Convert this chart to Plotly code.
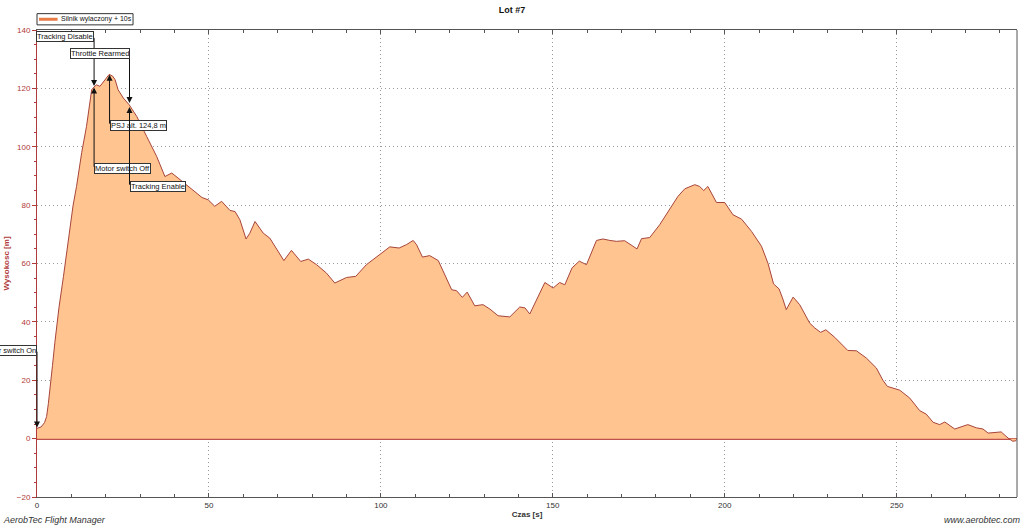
import plotly.graph_objects as go

FONT = "Liberation Sans, Arial, sans-serif"
RED = "#B03A3A"
FILL = "#FFC48F"
LINE = "#A8443A"

# flight altitude profile
czas = [0, 1.2, 2.2, 2.8, 3.3, 3.8, 4.5, 5.2, 6.4, 7.7, 8.6, 9.6, 10.5, 11.5, 13, 14.4, 15.2,
        15.9, 16.6, 17.3, 18.3, 19.5, 21, 22, 22.7, 23.6, 25.1, 26.8, 29, 31.9, 34.8, 37.2,
        39.2, 41, 43.5, 46.4, 48, 49.8, 51.7, 53.7, 56.1, 57.6, 59, 60.8, 61.9, 63.4, 65.8,
        67.7, 69.7, 71.8, 74, 76.7, 78.9, 81.3, 84.2, 86.6, 90, 92.7, 95.8, 99.7, 102.6,
        105.3, 107.5, 109.4, 110.4, 112.1, 114.2, 116.7, 118.6, 120.6, 122, 123.7, 125.1,
        127.3, 129.7, 131.7, 134.1, 137.5, 140.4, 141.9, 143.3, 145.3, 147.7, 150.1, 152,
        153.5, 155.6, 157.7, 159.8, 162.7, 164.6, 166.6, 168.5, 170.9, 172.9, 174.5, 175.8,
        178.2, 181.1, 184, 186.4, 188.4, 191.3, 192.7, 193.9, 195.1, 197.6, 200, 202.4,
        204.9, 207.8, 210.7, 212.6, 214.2, 215.8, 216.8, 217.9, 219.9, 221.8, 224.7, 226.2,
        227.9, 229.4, 232, 235.8, 238.3, 241.2, 244.1, 246, 247.3, 250.9, 253.8, 256.7,
        258.6, 260.6, 262.5, 264, 266.9, 270.7, 273.2, 275.1, 276.6, 280.4, 282.4, 283.8, 284.8]
wysokosc = [3.5, 4.0, 5.5, 7.6, 12, 16.8, 25, 33, 45, 55.6, 64, 72.7, 80, 86.4, 98, 107, 113,
            119.5, 120.5, 121.2, 120.7, 122.5, 124.8, 124.2, 123, 119.5, 116.7, 114.4, 110.4,
            103.5, 96.7, 89.8, 91, 89.3, 87, 84.1, 82.6, 81.8, 79.6, 81.3, 78.2, 77.8, 75,
            68.4, 70.4, 74.4, 70.4, 68.7, 64.7, 61, 64.5, 60.7, 61.5, 59.6, 56.7, 53.3, 55.2,
            55.6, 59.6, 63, 65.7, 65.3, 66.5, 67.9, 66.4, 62.2, 62.7, 61, 56.2, 51, 50.7,
            48.4, 50.2, 45.5, 45.9, 44.4, 42.1, 41.7, 45.1, 44.8, 42.7, 47.6, 53.5, 51.6,
            53.5, 52.7, 58.5, 60.8, 59.6, 67.9, 68.4, 67.9, 67.6, 67.8, 66.1, 65, 68.5, 68.9,
            73.3, 78.4, 83, 85.6, 87, 86.4, 85, 86.4, 80.9, 80.9, 76.7, 75.2, 71, 65.9, 60,
            53, 51.3, 48.2, 44.2, 48.5, 45.9, 39.6, 37.9, 36.4, 37.3, 34.7, 30.2, 30.1, 27.6,
            24.2, 20, 17.9, 16.6, 13.9, 9.6, 8.4, 5.6, 4.8, 5.7, 3.3, 4.8, 3.7, 3.3, 1.9,
            2.3, 0.2, -0.9, -0.7]

# flight events
zdarzenia = ["Motor switch On", "Tracking Disable", "Motor switch Off", "PSJ alt. 124,8 m",
             "Throttle Rearmed", "Tracking Enable"]
zdarzenia_t = [0, 16.6, 16.6, 21.1, 26.9, 26.9]
zdarzenia_alt = [3.8, 120.8, 120.3, 124.7, 115.0, 113.6]
etykiety_alt = [30.3, 137.8, 92.6, 107.4, 131.8, 86.5]
etykiety_strona = ["right", "right", "left", "left", "right", "left"]

seria = "Silnik wylaczony + 10s"

fig = go.Figure()
fig.add_trace(go.Scatter(
    x=czas, y=wysokosc, mode="lines", fill="tozeroy", fillcolor=FILL,
    line=dict(color=LINE, width=1), showlegend=False,
))

for name, t, a, ly, side in zip(zdarzenia, zdarzenia_t, zdarzenia_alt, etykiety_alt, etykiety_strona):
    fig.add_annotation(
        x=t, y=a, ax=t, ay=ly, axref="x", ayref="y", text="",
        showarrow=True, arrowhead=2, arrowsize=1.2, arrowwidth=1, arrowcolor="#111",
    )
    fig.add_annotation(
        x=t, y=ly, text=name, showarrow=False, xanchor=side, yanchor="middle",
        bgcolor="white", bordercolor="#333", borderwidth=1, borderpad=0,
        font=dict(family=FONT, size=7.5, color="#111"),
    )

# legend drawn by hand (small box above the plot's top-left corner)
fig.add_shape(type="rect", xref="paper", yref="paper", x0=0, x1=0.098, y0=1.011, y1=1.035,
              line=dict(color="#333", width=1), fillcolor="white")
fig.add_shape(type="line", xref="paper", yref="paper", x0=0.002, x1=0.021, y0=1.023, y1=1.023,
              line=dict(color="#E87A45", width=3))
fig.add_annotation(x=0.022, y=1.023, xref="paper", yref="paper", text=seria, showarrow=False,
                   xanchor="left", yanchor="middle", font=dict(family=FONT, size=7, color="#111"))

# right border of the frame
fig.add_shape(type="line", xref="paper", yref="paper", x0=1, x1=1, y0=0, y1=1,
              line=dict(color="#555", width=1))

fig.add_annotation(x=0, y=0, xref="paper", yref="paper", xshift=-36, yshift=-16,
                   text="<i>AerobTec Flight Manager</i>", showarrow=False,
                   xanchor="left", yanchor="top", font=dict(family=FONT, size=9, color="#333"))
fig.add_annotation(x=1, y=0, xref="paper", yref="paper", xshift=6, yshift=-16,
                   text="<i>www.aerobtec.com</i>", showarrow=False,
                   xanchor="right", yanchor="top", font=dict(family=FONT, size=9, color="#333"))

fig.update_layout(
    width=1024, height=527,
    margin=dict(l=37, r=7, t=30, b=30, autoexpand=False),
    paper_bgcolor="white", plot_bgcolor="white",
    font=dict(family=FONT, size=8, color="#333"),
    title=dict(text="<b>Lot #7</b>", x=0.5, xanchor="center", y=0.988, yanchor="top",
               font=dict(family=FONT, size=9, color="#111")),
    showlegend=False,
    xaxis=dict(
        range=[0, 285], tick0=0, dtick=50, showgrid=True, automargin=False,
        gridcolor="#999", griddash="1px,3px", gridwidth=1,
        showline=True, linecolor="#555", linewidth=1, mirror="ticks",
        ticks="inside", ticklen=4, tickcolor="#555",
        minor=dict(dtick=10, ticks="inside", ticklen=3, tickcolor="#555", showgrid=False),
        zeroline=False, layer="above traces",
        tickfont=dict(family=FONT, size=8, color="#333"),
        title=dict(text="<b>Czas [s]</b>", standoff=2,
                   font=dict(family=FONT, size=8, color="#333")),
    ),
    yaxis=dict(
        range=[-20, 140], tick0=0, dtick=20, showgrid=True, automargin=False,
        gridcolor="#999", griddash="1px,3px", gridwidth=1,
        showline=True, linecolor=RED, linewidth=1,
        ticks="outside", ticklen=4, tickcolor=RED,
        minor=dict(dtick=5, ticks="outside", ticklen=2, tickcolor=RED, showgrid=False),
        zeroline=True, zerolinecolor="#C0504D", zerolinewidth=2, layer="above traces",
        tickfont=dict(family=FONT, size=8, color=RED),
        title=dict(text="<b>Wysokosc [m]</b>", standoff=6,
                   font=dict(family=FONT, size=8, color=RED)),
    ),
)

fig.write_html("out.html", config={"displayModeBar": False},
               post_script="document.body.style.margin = '0px';")
